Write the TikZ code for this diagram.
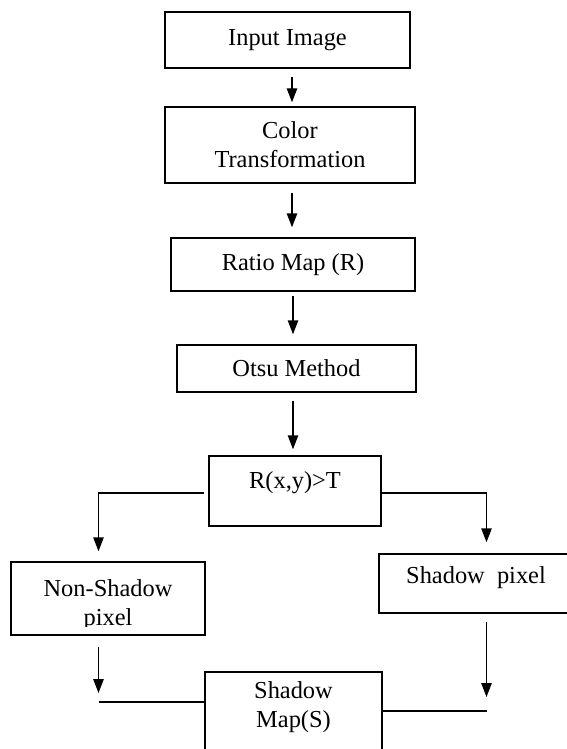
\documentclass[tikz,border=0pt]{standalone}
\usepackage{fontspec}
\setmainfont{Liberation Serif}
\usetikzlibrary{arrows.meta}
\begin{document}
\begin{tikzpicture}[x=0.5pt,y=-0.5pt,
  box/.style={draw,line width=0.7pt,rectangle,inner sep=0pt,align=center},
  txt/.style={inner sep=0pt,align=center},
  arr/.style={line width=0.7pt,-{Triangle[length=7pt,width=5.2pt]}},
  ln/.style={line width=0.7pt},
  every node/.style={font=\fontsize{12.2}{14.5}\selectfont}]
\useasboundingbox (0,0) rectangle (567,749);
\clip (0,0) rectangle (567,749);
% boxes
\node[box,minimum width=122.5pt,minimum height=28pt] (in) at (287.5,40) {Input Image};
\node[box,minimum width=125pt,minimum height=38pt] (col) at (290,145) {Color\\Transformation};
\node[box,minimum width=122pt,minimum height=26.5pt] (rat) at (293,264.5) {Ratio Map (R)};
\node[box,minimum width=119.5pt,minimum height=23.5pt] (ots) at (296.5,368.5) {Otsu Method};
\node[box,minimum width=86pt,minimum height=35pt] (rt) at (295,491) {};
\node[txt] (rtl) at (295,483) {R(x,y)>T};
\node[box,minimum width=97pt,minimum height=36.5pt] (ns) at (108,598.5) {};
\begin{scope}
\clip (0,0) rectangle (567,626);
\node[txt] (nsl) at (108,605) {Non-Shadow\\pixel};
\end{scope}
\node[box,minimum width=99pt,minimum height=29.5pt] (sp) at (478,583.5) {};
\node[txt] (spl) at (476,578) {Shadow\ \ pixel};
\node[box,minimum width=88.5pt,minimum height=54pt] (sm) at (293.5,726) {};
\node[txt] (sml) at (293.5,707) {Shadow\\Map(S)};
% helper coordinates
\coordinate (a1) at (292,0);
\coordinate (a2) at (293,0);
\coordinate (bl) at (98.5,493);
\coordinate (brr) at (486.5,493);
\coordinate (lx) at (98.5,702);
\coordinate (rx) at (486.5,711);
% vertical arrows
\draw[arr,shorten <=4pt,shorten >=2pt] (in.south -| a1) -- (col.north -| a1);
\draw[arr,shorten <=4.5pt,shorten >=5pt] (col.south -| a1) -- (rat.north -| a1);
\draw[arr,shorten <=2pt,shorten >=5pt] (rat.south -| a2) -- (ots.north -| a2);
\draw[arr,shorten <=4pt,shorten >=3pt] (ots.south -| a2) -- (rt.north -| a2);
% branches
\draw[arr,shorten <=2pt,shorten >=5pt] (bl -| rt.west) -- (bl) -- (bl |- ns.north);
\draw[arr,shorten >=5.5pt] (brr -| rt.east) -- (brr) -- (brr |- sp.north);
% lower arrows and joins
\draw[arr,shorten <=5.5pt,shorten >=4.5pt] (ns.south -| lx) -- (lx);
\draw[ln] (lx) -- (lx -| sm.west);
\draw[arr,shorten <=4pt,shorten >=7pt] (sp.south -| rx) -- (rx);
\draw[ln] (rx) -- (rx -| sm.east);
\end{tikzpicture}
\end{document}
